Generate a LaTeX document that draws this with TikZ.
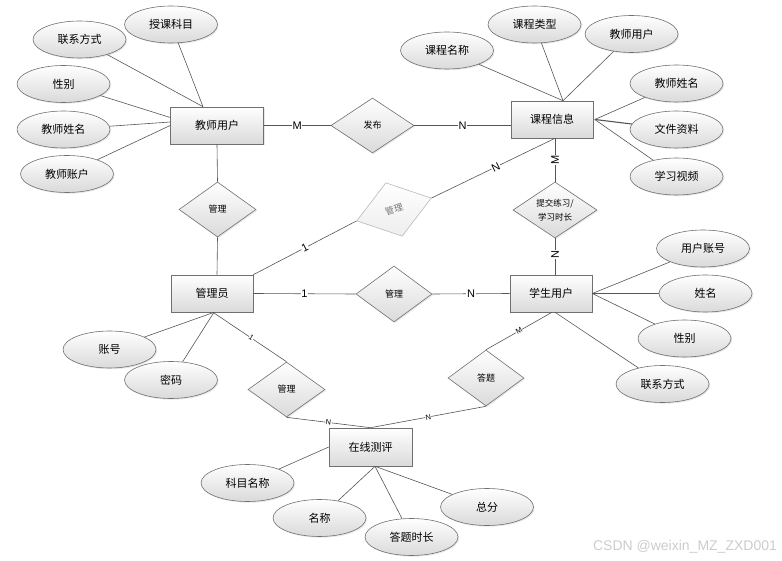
\documentclass[tikz,border=0pt]{standalone}
\usepackage{fontspec}
\setmainfont{Noto Sans CJK SC}
\newfontfamily\wmfont{Liberation Sans}
\usetikzlibrary{shapes.geometric,shadows}
\definecolor{edgegray}{RGB}{112,112,112}
\definecolor{linegray}{RGB}{85,85,85}
\definecolor{shadegray}{RGB}{218,218,218}
\definecolor{fadetext}{RGB}{118,118,118}
\begin{document}
\begin{tikzpicture}[x=1pt,y=-1pt,
  shapebase/.style={draw=edgegray, line width=0.6pt, top color=white, bottom color=shadegray,
    drop shadow={opacity=0.18, shadow xshift=1.2pt, shadow yshift=-1.2pt}},
  entity/.style={shapebase, rectangle, minimum width=82pt, minimum height=37pt, inner sep=0pt,
    font=\fontsize{11}{13}\selectfont},
  attr/.style={shapebase, ellipse, minimum width=93pt, minimum height=37pt, inner sep=0pt,
    font=\fontsize{11}{13}\selectfont},
  rel/.style={shapebase, diamond, aspect=1.4, minimum width=77pt, minimum height=55pt, inner sep=0pt,
    font=\fontsize{9}{11}\selectfont},
  fadedrel/.style={diamond, aspect=1.4, draw=gray!55, line width=0.6pt, text=fadetext,
    top color=white, bottom color=gray!14, inner sep=0pt, font=\fontsize{9}{11}\selectfont},
  conn/.style={draw=linegray, line width=0.6pt},
  card/.style={fill=white, inner sep=0.6pt, font=\wmfont\fontsize{11}{12}\selectfont},
  smallcard/.style={fill=white, inner sep=0.3pt, font=\wmfont\fontsize{7.5}{8}\selectfont},
]
\useasboundingbox (0,0) rectangle (782,561);

% entities
\node[entity, minimum width=93pt] (tu) at (217,125.5) {教师用户};
\node[entity] (kc) at (552,119.5) {课程信息};
\node[entity] (adm) at (212,293.5) {管理员};
\node[entity] (st) at (551,293.5) {学生用户};
\node[entity, minimum width=83pt, minimum height=38pt] (cs) at (370.5,447) {在线测评};

% relationships
\node[rel, minimum width=83pt] (fb) at (372.5,125.5) {发布};
\node[rel] (gl1) at (217.5,209.5) {管理};
\node[fadedrel, rotate=17, minimum width=78pt, minimum height=56pt] (gm) at (394,209.5) {管理};
\node[rel, minimum width=84pt, minimum height=56pt, align=center,
      font=\fontsize{8.5}{13.5}\selectfont] (tj) at (555,210) {提交练习/\\学习时长};
\node[rel, minimum width=76pt, minimum height=56pt] (gm2) at (394,294) {管理};
\node[rel] (gm3) at (286.5,389.5) {管理};
\node[rel, minimum width=76pt, minimum height=56pt] (dt) at (486,378) {答题};

% attributes of teacher
\node[attr] (a1) at (79.5,39.5) {联系方式};
\node[attr] (a2) at (171,24.5) {授课科目};
\node[attr] (a3) at (63.5,84) {性别};
\node[attr] (a4) at (63.5,129.5) {教师姓名};
\node[attr] (a5) at (67,174) {教师账户};
% attributes of course
\node[attr] (b1) at (447,50.5) {课程名称};
\node[attr] (b2) at (534.5,24.5) {课程类型};
\node[attr] (b3) at (631.5,34) {教师用户};
\node[attr] (b4) at (676.5,83.5) {教师姓名};
\node[attr] (b5) at (676.5,129.5) {文件资料};
\node[attr] (b6) at (676.5,176.5) {学习视频};
% attributes of student
\node[attr] (c1) at (703,248.5) {用户账号};
\node[attr] (c2) at (705.5,293.5) {姓名};
\node[attr] (c3) at (684.5,338.5) {性别};
\node[attr] (c4) at (662.5,384) {联系方式};
% attributes of admin
\node[attr] (d1) at (109.5,349.5) {账号};
\node[attr] (d2) at (171,380) {密码};
% attributes of test
\node[attr] (e1) at (247.5,483) {科目名称};
\node[attr] (e2) at (319.5,518) {名称};
\node[attr] (e3) at (411.5,537) {答题时长};
\node[attr] (e4) at (487,507) {总分};

% teacher attribute lines
\draw[conn] (a1) -- ([xshift=-14pt]tu.north);
\draw[conn] (a2) -- ([xshift=-14pt]tu.north);
\draw[conn] (a3) -- ([yshift=8pt]tu.west);
\draw[conn] (a4) -- ([yshift=3.5pt]tu.west);
\draw[conn] (a5) -- (tu.west);
% course attribute lines
\draw[conn] (b1) -- ([xshift=11pt]kc.north);
\draw[conn] (b2) -- ([xshift=11pt]kc.north);
\draw[conn] (b3) -- ([xshift=11pt]kc.north);
\draw[conn] (b4) -- ([xshift=1.5pt]kc.east);
\draw[conn, line width=1.1pt] (b5) -- ([xshift=1.5pt]kc.east);
\draw[conn] (b6) -- ([xshift=1.5pt]kc.east);
% student attribute lines
\draw[conn] (c1) -- (st.east);
\draw[conn] (c2) -- (st.east);
\draw[conn] (c3) -- (st.east);
\draw[conn] (c4) -- ([xshift=4pt]st.south);
% admin attribute lines
\draw[conn] (d1) -- ([xshift=2pt]adm.south);
\draw[conn] (d2) -- ([xshift=2pt]adm.south);
% test attribute lines
\draw[conn] (e1) -- (cs.west);
\draw[conn] (e2) -- ([xshift=4.5pt]cs.south);
\draw[conn] (e3) -- ([xshift=4.5pt]cs.south);
\draw[conn] (e4) -- ([xshift=4.5pt]cs.south);

% relationship lines
\draw[conn] (tu.east) -- node[card, pos=0.5] {M} (fb.west);
\draw[conn] (fb.east) -- node[card, pos=0.5] {N} ([yshift=-6pt]kc.west);
\draw[conn] (tu.south) -- (gl1.north);
\draw[conn] (gl1.south) -- ([xshift=5pt]adm.north);
\draw[conn] (adm.north east) -- node[card, pos=0.5, sloped] {1} (gm.west);
\draw[conn] (gm.east) -- node[card, pos=0.52, sloped] {N} ([xshift=3pt]kc.south);
\draw[conn] ([xshift=3pt]kc.south) -- node[card, pos=0.5, rotate=90] {M} (tj.north);
\draw[conn] (tj.south) -- node[card, pos=0.45, rotate=90] {N} ([xshift=4pt]st.north);
\draw[conn] (adm.east) -- node[card, pos=0.5] {1} (gm2.west);
\draw[conn] (gm2.east) -- node[card, pos=0.5] {N} (st.west);
\draw[conn] ([xshift=1pt]adm.south) -- node[smallcard, pos=0.52, sloped] {1} (gm3.north);
\draw[conn] (gm3.south) -- node[smallcard, pos=0.5, sloped] {N} (cs.north);
\draw[conn] (dt.south) -- node[smallcard, pos=0.5, sloped] {N} (cs.north);
\draw[conn] (dt.north) -- node[smallcard, pos=0.5, sloped] {M} ([xshift=1pt]st.south);

% watermark
\node[text=gray!40, font=\wmfont\fontsize{14}{16}\selectfont, inner sep=0pt] (wm) at (685,547) {CSDN @weixin\_MZ\_ZXD001};
\end{tikzpicture}
\end{document}
